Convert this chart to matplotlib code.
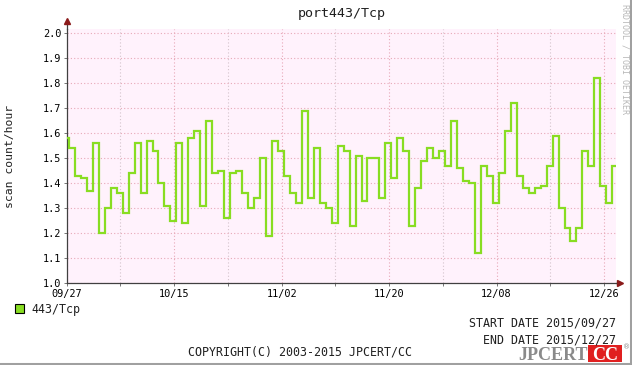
import numpy as np
import matplotlib
matplotlib.use("Agg")
import matplotlib.pyplot as plt
import matplotlib.dates as mdates
from matplotlib.patches import Rectangle
from matplotlib.lines import Line2D
from datetime import datetime, timedelta

# ── Data (daily scan count/hour) ─────────────────────────────────────────────
start_date = datetime(2015, 9, 27)
end_date = datetime(2015, 12, 28)
step_offset = timedelta(hours=9)   # day buckets start at 09:00 local

values = [
    1.58, 1.54, 1.43, 1.42, 1.37, 1.56, 1.20, 1.30, 1.38, 1.36, 1.28, 1.44, 1.56, 1.36,
    1.57, 1.53, 1.40, 1.31, 1.25, 1.56, 1.24, 1.58, 1.61, 1.31, 1.65, 1.44, 1.45,
    1.26, 1.44, 1.45, 1.36, 1.30, 1.34, 1.50, 1.19, 1.57, 1.53, 1.43, 1.36, 1.32,
    1.69, 1.34, 1.54, 1.32, 1.30, 1.24, 1.55, 1.53, 1.23, 1.51, 1.33, 1.50, 1.50,
    1.34, 1.56, 1.42, 1.58, 1.53, 1.23, 1.38, 1.49, 1.54, 1.50, 1.53, 1.47, 1.65,
    1.46, 1.41, 1.40, 1.12, 1.47, 1.43, 1.32, 1.44, 1.61, 1.72, 1.43, 1.38, 1.36,
    1.38, 1.39, 1.47, 1.59, 1.30, 1.22, 1.17, 1.22, 1.53, 1.47, 1.82, 1.39, 1.32, 1.47,
]
tick_dates = ["2015-09-27", "2015-10-15", "2015-11-02", "2015-11-20", "2015-12-08", "2015-12-26"]
minor_dates = ["2015-10-06", "2015-10-24", "2015-11-11", "2015-11-29", "2015-12-17"]
series_label = "443/Tcp"

# ── Style ────────────────────────────────────────────────────────────────────
MONO = "DejaVu Sans Mono"
PLOT_BG = "#FFF2FC"
GREEN = "#88DD22"
MAJOR = "#E8A8B8"
MINOR = "#D4C4CC"
ARROW = "#8B1A1A"

W, H = 632, 365
fig = plt.figure(figsize=(W / 100, H / 100), dpi=100)
fig.patch.set_facecolor("white")

left, right, top, bottom = 66.7, 616, 29, 283
ax = fig.add_axes([left / W, (H - bottom) / H, (right - left) / W, (bottom - top) / H])
ax.set_facecolor(PLOT_BG)

edges = [start_date] + [start_date + step_offset + timedelta(days=i) for i in range(len(values) - 1)] + [end_date]
ax.stairs(values, mdates.date2num(edges), baseline=None, color=GREEN, linewidth=1.6, zorder=3)

ax.set_xlim(mdates.date2num(start_date), mdates.date2num(end_date))
ax.set_ylim(1.0, 2.016)

ax.set_yticks(np.round(np.arange(1.0, 2.01, 0.1), 1))
ax.yaxis.set_major_formatter(plt.FormatStrFormatter("%.1f"))
ax.set_xticks(mdates.date2num([datetime.fromisoformat(d) for d in tick_dates]))
ax.set_xticks(mdates.date2num([datetime.fromisoformat(d) for d in minor_dates]), minor=True)
ax.xaxis.set_major_formatter(mdates.DateFormatter("%m/%d"))

ax.grid(axis="y", color=MAJOR, linestyle=(0, (1, 2)), linewidth=0.8)
ax.grid(axis="x", which="major", color=MAJOR, linestyle=(0, (1, 2)), linewidth=0.8)
ax.grid(axis="x", which="minor", color=MINOR, linestyle=(0, (1, 2)), linewidth=0.8)

ax.tick_params(axis="both", which="both", length=2, width=0.6, color="#606060",
               labelsize=7.4, pad=2)
for lbl in ax.get_xticklabels() + ax.get_yticklabels():
    lbl.set_fontfamily(MONO)

for side in ("top", "right"):
    ax.spines[side].set_visible(False)
for side in ("left", "bottom"):
    ax.spines[side].set_color("#404040")
    ax.spines[side].set_linewidth(0.9)

# axis arrows
ax.plot([0, 0], [1.0, 1.03], transform=ax.transAxes, color="#404040", lw=0.9, clip_on=False)
ax.plot([0], [1.03], transform=ax.transAxes, marker="^", color=ARROW, markersize=5, clip_on=False)
ax.plot([1.0, 1.008], [0, 0], transform=ax.transAxes, color="#404040", lw=0.9, clip_on=False)
ax.plot([1.008], [0], transform=ax.transAxes, marker=">", color=ARROW, markersize=5, clip_on=False)

# ── Text ─────────────────────────────────────────────────────────────────────
fig.text(342 / W, 1 - 13 / H, "port443/Tcp", family=MONO, fontsize=9.6,
         ha="center", va="center", color="#202020")
fig.text(10 / W, 1 - 156 / H, "scan count/hour", family=MONO, fontsize=8.2,
         rotation=90, ha="center", va="center", color="#202020")
fig.text(625 / W, 1 - 4 / H, "RRDTOOL / TOBI OETIKER", family=MONO, fontsize=6,
         rotation=270, ha="center", va="top", color="#B8B8B8")

fig.patches.append(Rectangle((15 / W, 1 - 313 / H), 9 / W, 9 / H, transform=fig.transFigure,
                             facecolor=GREEN, edgecolor="black", linewidth=0.8))
fig.text(31 / W, 1 - 309 / H, series_label, family=MONO, fontsize=8.4,
         ha="left", va="center", color="#202020")
fig.text(616 / W, 1 - 323 / H, "START DATE 2015/09/27", family=MONO, fontsize=8.4,
         ha="right", va="center", color="#202020")
fig.text(616 / W, 1 - 340 / H, "END DATE 2015/12/27", family=MONO, fontsize=8.4,
         ha="right", va="center", color="#202020")
fig.text(300 / W, 1 - 352 / H, "COPYRIGHT(C) 2003-2015 JPCERT/CC", family=MONO, fontsize=8.4,
         ha="center", va="center", color="#202020")

# JPCERT CC logo
fig.text(588 / W, 1 - 355 / H, "JPCERT", family="Liberation Serif", fontweight="bold",
         fontsize=13, ha="right", va="center", color="#8A8A8A")
fig.patches.append(Rectangle((588 / W, 1 - 362 / H), 34 / W, 17 / H, transform=fig.transFigure,
                             facecolor="#E02020", edgecolor="none"))
fig.text(605 / W, 1 - 355 / H, "CC", family="Liberation Serif", fontweight="bold",
         fontsize=13, ha="center", va="center", color="white")
fig.text(627 / W, 1 - 347 / H, "®", family="DejaVu Sans", fontsize=5,
         ha="center", va="center", color="#8A8A8A")

# canvas shadow on right and bottom edges
fig.lines.append(Line2D([1 - 1.5 / W, 1 - 1.5 / W], [0, 1], transform=fig.transFigure,
                        color="#A0A0A0", linewidth=2.2))
fig.lines.append(Line2D([0, 1], [1.5 / H, 1.5 / H], transform=fig.transFigure,
                        color="#A0A0A0", linewidth=2.2))

fig.savefig("out.png", dpi=100, facecolor="white")
